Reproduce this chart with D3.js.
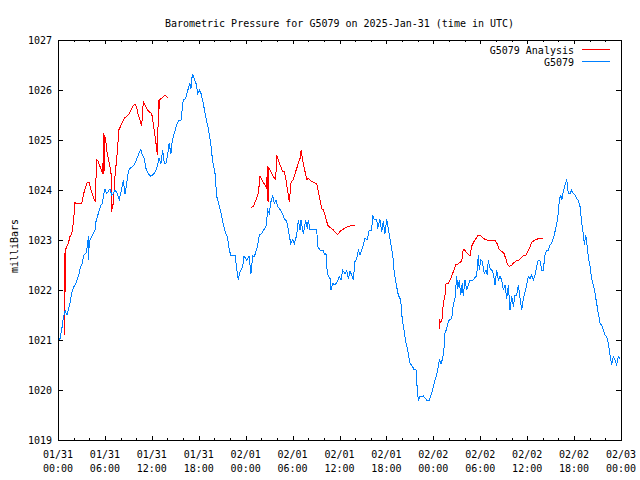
<!DOCTYPE html>
<html>
<head>
<meta charset="utf-8">
<script src="https://cdn.jsdelivr.net/npm/d3@7"></script>
<style>
  html, body { margin: 0; padding: 0; background: #fff; }
  svg { display: block; }
  text { font-family: "DejaVu Sans Mono", "Liberation Mono", monospace; font-size: 10px; fill: #000; }
</style>
</head>
<body>
<svg id="chart" width="640" height="480"></svg>
<script>
// ---------- DATA ----------
const chartTitle = "Barometric Pressure for G5079 on 2025-Jan-31 (time in UTC)";
const yLabel = "milliBars";
const seriesNames = ["G5079 Analysis", "G5079"];
const startTime = "2025-01-31T00:00:00Z";
const endTime = "2025-02-03T00:00:00Z";
const yTicks = [1019, 1020, 1021, 1022, 1023, 1024, 1025, 1026, 1027];

// G5079 observations: hours after start, pressure (mb)
const blueHours = [
  0.22,0.47,0.68,0.90,1.15,1.53,1.75,2.05,2.26,2.60,2.90,3.03,3.33,3.58,3.75,3.88,3.91,4.00,4.31,4.73,
  4.86,5.15,5.46,5.67,5.88,6.01,6.23,6.65,6.87,7.07,7.29,7.58,7.84,8.15,8.35,8.57,8.79,8.99,9.21,9.63,
  9.94,10.27,10.58,10.78,11.04,11.25,11.55,11.86,12.28,12.62,12.92,13.17,13.39,13.59,13.81,14.03,14.20,14.45,14.62,14.87,
  15.18,15.48,15.73,16.02,16.33,16.66,16.88,17.01,17.18,17.43,17.65,17.87,18.07,18.29,18.58,18.89,19.22,19.53,19.78,20.08,
  20.30,20.59,20.81,21.06,21.36,21.65,21.91,22.09,22.64,22.85,23.06,23.28,23.62,23.79,24.13,24.43,24.68,24.90,25.11,25.32,
  25.54,25.74,26.05,26.35,26.60,26.82,27.02,27.24,27.46,27.66,27.88,28.10,28.39,28.69,28.94,29.25,29.45,29.76,30.02,30.22,
  30.53,30.73,30.95,31.08,31.37,31.68,31.88,32.01,32.23,33.09,33.21,33.51,33.93,34.06,34.27,34.36,34.57,34.79,34.91,35.13,
  35.43,35.72,35.98,36.19,36.41,36.70,36.92,37.13,37.34,37.56,37.77,37.98,38.20,38.41,38.62,38.84,39.04,39.26,39.56,39.81,
  40.12,40.25,40.45,40.76,40.89,41.18,41.40,41.60,41.82,42.04,42.24,42.55,42.81,42.97,43.23,43.52,43.83,44.03,44.25,44.51,
  44.72,45.02,45.23,45.53,45.79,45.95,46.08,46.30,46.72,47.15,47.48,47.79,48.00,48.21,48.43,48.64,48.76,48.98,49.20,49.36,
  49.49,49.71,49.91,50.04,50.35,50.55,50.77,50.99,51.12,51.32,51.50,51.70,51.83,52.05,52.27,52.47,52.69,53.04,53.24,53.46,
  53.63,53.75,53.88,54.06,54.26,54.52,54.74,54.90,55.03,55.25,55.47,55.67,55.89,56.10,56.31,56.53,56.75,56.95,57.17,57.39,
  57.59,57.81,58.03,58.23,58.45,58.66,58.87,59.09,59.30,59.51,59.73,59.94,60.15,60.37,60.58,60.79,61.00,61.22,61.42,61.64,
  61.86,62.06,62.28,62.49,62.70,62.92,63.13,63.34,63.56,63.78,63.98,64.11,64.29,64.42,64.62,64.84,65.06,65.26,65.48,65.70,
  65.90,66.12,66.34,66.54,66.76,66.98,67.18,67.31,67.49,67.61,67.82,68.04,68.25,68.46,68.68,68.89,69.10,69.32,69.53,69.74,
  69.95,70.17,70.38,70.60,70.81,71.02,71.24,71.45,71.66,71.88
];
const blueValues = [
  1021.00,1021.20,1021.44,1021.59,1021.50,1021.74,1021.94,1022.07,1022.12,1022.27,1022.47,1022.50,1022.70,1022.74,1022.87,1023.07,1022.60,1022.97,1023.07,1023.20,
  1023.37,1023.53,1023.69,1023.73,1023.93,1024.02,1023.93,1024.02,1023.90,1023.93,1024.00,1023.93,1023.81,1024.03,1024.20,1023.93,1024.13,1024.37,1024.43,1024.48,
  1024.57,1024.70,1024.81,1024.70,1024.63,1024.43,1024.33,1024.27,1024.33,1024.43,1024.63,1024.53,1024.80,1024.53,1024.53,1024.70,1024.93,1024.73,1025.00,1025.13,
  1025.30,1025.40,1025.40,1025.80,1025.83,1026.03,1026.13,1026.03,1026.32,1026.23,1026.13,1025.93,1026.00,1025.93,1025.73,1025.47,1025.23,1024.93,1024.57,1024.33,
  1023.87,1023.70,1023.57,1023.37,1023.17,1023.07,1022.80,1022.70,1022.70,1022.43,1022.21,1022.37,1022.47,1022.68,1022.60,1022.68,1022.33,1022.68,1022.67,1022.77,
  1022.90,1023.10,1023.13,1023.21,1023.27,1023.60,1023.53,1023.77,1023.90,1023.73,1023.80,1023.67,1023.61,1023.53,1023.43,1023.37,1023.21,1022.93,1023.00,1022.93,
  1023.10,1023.40,1023.20,1023.40,1023.12,1023.40,1023.23,1023.40,1023.21,1023.21,1022.87,1022.80,1022.80,1022.70,1022.73,1022.47,1022.27,1022.23,1022.00,1022.13,
  1022.10,1022.17,1022.27,1022.20,1022.39,1022.33,1022.39,1022.23,1022.37,1022.30,1022.20,1022.57,1022.63,1022.79,1022.70,1022.80,1022.90,1023.03,1023.01,1023.20,
  1023.20,1023.50,1023.41,1023.40,1023.23,1023.41,1023.17,1023.37,1023.13,1023.41,1023.23,1022.93,1022.70,1022.40,1022.13,1021.90,1021.80,1021.40,1021.20,1020.93,
  1020.80,1020.53,1020.50,1020.41,1020.40,1020.00,1019.80,1019.87,1019.88,1019.80,1019.80,1019.93,1020.07,1020.20,1020.30,1020.47,1020.60,1020.53,1020.63,1020.83,
  1021.13,1021.23,1021.37,1021.40,1021.43,1021.70,1021.83,1022.28,1022.03,1022.20,1021.90,1022.13,1021.88,1022.20,1022.00,1022.10,1022.20,1022.20,1022.23,1022.27,
  1022.43,1022.70,1022.40,1022.60,1022.57,1022.33,1022.40,1022.30,1022.60,1022.43,1022.40,1022.33,1022.10,1022.40,1022.20,1022.27,1022.20,1022.00,1022.10,1021.83,
  1022.10,1021.60,1021.87,1021.67,1021.90,1021.90,1022.10,1021.83,1021.60,1021.83,1021.97,1022.10,1022.27,1022.23,1022.30,1022.20,1022.30,1022.47,1022.60,1022.59,
  1022.40,1022.40,1022.70,1022.80,1022.80,1022.90,1022.93,1023.03,1023.17,1023.33,1023.53,1023.80,1023.90,1023.80,1023.97,1024.10,1024.21,1023.93,1023.93,1024.00,
  1023.93,1023.90,1023.83,1023.80,1023.67,1023.33,1023.13,1022.90,1023.10,1022.97,1022.67,1022.47,1022.23,1022.10,1021.93,1021.73,1021.53,1021.33,1021.30,1021.20,
  1021.10,1021.07,1020.93,1020.70,1020.50,1020.67,1020.60,1020.50,1020.67,1020.63
];

// G5079 Analysis: hours after start, pressure (mb); null marks a gap
const redHours = [
  0.81,0.83,0.90,1.02,1.32,1.53,1.75,1.88,2.05,2.08,2.39,2.69,3.03,3.24,3.54,3.75,4.00,4.22,4.44,4.64,
  4.82,4.85,4.95,5.15,5.37,5.59,5.72,5.79,5.84,5.88,5.97,6.10,6.23,6.43,6.65,6.78,6.87,6.99,7.12,7.20,
  7.38,7.51,7.63,7.80,8.02,8.27,8.57,8.86,9.08,9.34,9.63,9.85,10.07,10.27,10.49,10.70,10.91,11.13,11.34,11.55,
  11.77,11.98,12.19,12.32,12.49,12.62,12.75,12.83,12.92,13.04,13.34,13.68,13.81,14.03,
  18.0,
  24.68,24.98,25.32,25.62,25.83,26.05,26.35,26.60,26.69,26.77,26.86,26.94,27.20,27.53,27.84,27.97,28.18,28.48,28.74,28.94,
  29.16,29.38,29.58,29.80,30.09,30.40,30.73,30.95,31.08,31.29,31.59,31.81,32.01,32.45,32.74,33.09,33.29,33.51,33.72,33.93,
  34.15,34.36,34.57,34.88,35.21,35.51,35.77,36.06,36.41,36.83,37.13,37.47,37.98,
  42.0,
  48.76,48.77,48.94,49.10,49.27,49.49,49.62,49.91,50.22,50.47,50.68,50.86,51.06,51.32,51.63,51.83,52.05,52.35,52.69,52.91,
  53.20,53.46,53.75,54.06,54.39,54.83,55.34,55.89,56.18,56.44,56.75,57.04,57.30,57.51,57.72,58.03,58.32,58.66,58.99,59.30,
  59.60,59.85,60.02,60.27,60.58,60.87,61.22,61.55,62.06
];
const redValues = [
  1021.10,1022.73,1021.97,1022.83,1022.93,1023.07,1023.13,1023.23,1023.50,1023.75,1023.73,1023.72,1023.73,1023.90,1024.07,1024.15,1024.15,1024.00,1023.90,1023.81,
  1023.77,1024.19,1024.60,1024.57,1024.47,1024.38,1024.33,1024.73,1025.13,1024.33,1025.10,1025.00,1024.80,1024.63,1024.47,1024.33,1023.57,1023.70,1023.73,1024.13,
  1024.43,1024.63,1024.88,1025.21,1025.28,1025.37,1025.45,1025.48,1025.52,1025.60,1025.69,1025.71,1025.65,1025.50,1025.40,1025.28,1025.77,1025.70,1025.63,1025.58,
  1025.55,1025.53,1025.33,1025.17,1025.00,1024.80,1024.70,1025.80,1025.63,1025.81,1025.85,1025.90,1025.88,1025.85,
  null,
  1023.65,1023.67,1023.80,1023.93,1024.27,1024.21,1024.13,1024.07,1024.03,1024.48,1023.77,1024.45,1024.37,1024.27,1024.21,1024.70,1024.60,1024.47,1024.37,1024.37,
  1024.20,1023.97,1023.77,1024.15,1024.21,1024.37,1024.53,1024.63,1024.79,1024.60,1024.37,1024.21,1024.23,1024.17,1024.15,1024.12,1023.97,1023.80,1023.63,1023.60,
  1023.50,1023.37,1023.27,1023.25,1023.20,1023.15,1023.11,1023.17,1023.21,1023.25,1023.27,1023.29,1023.29,
  null,
  1021.21,1021.41,1021.35,1021.40,1021.73,1021.90,1022.12,1022.13,1022.23,1022.33,1022.41,1022.51,1022.50,1022.55,1022.57,1022.82,1022.79,1022.73,1022.68,1022.88,
  1022.97,1023.03,1023.10,1023.08,1023.03,1023.00,1023.00,1023.00,1022.92,1022.81,1022.77,1022.73,1022.61,1022.50,1022.47,1022.50,1022.55,1022.59,1022.60,1022.65,
  1022.70,1022.70,1022.75,1022.83,1022.95,1022.99,1023.01,1023.04,1023.03
];
const seriesColors = ["#ff0000", "#0080ff"];

// ---------- CHART ----------
const svg = d3.select("#chart");
const L = 58, R = 621, T = 40, B = 440;
const t0 = new Date(startTime), t1 = new Date(endTime);
const toDate = h => new Date(t0.getTime() + h * 3600e3);

const x = d3.scaleUtc().domain([t0, t1]).range([L, R]);
const y = d3.scaleLinear().domain([1019, 1027]).range([B, T]);

const majorX = d3.utcHour.every(6).range(t0, new Date(t1.getTime() + 1));
const minorX = d3.utcHour.every(2).range(t0, new Date(t1.getTime() + 1));

// title
svg.append("text").attr("x", (L + R) / 2).attr("y", 27)
  .attr("text-anchor", "middle").text(chartTitle);

// y label
svg.append("text").attr("transform", "translate(18,246) rotate(-90)")
  .attr("text-anchor", "middle").text(yLabel);

// minor x ticks (bottom & top)
svg.append("g").attr("transform", `translate(0,${B})`)
  .call(d3.axisBottom(x).tickValues(minorX).tickSize(-2).tickFormat(""));
svg.append("g").attr("transform", `translate(0,${T})`)
  .call(d3.axisTop(x).tickValues(minorX).tickSize(-2).tickFormat(""));

// major x ticks bottom with labels
const fmtD = d3.utcFormat("%m/%d"), fmtT = d3.utcFormat("%H:%M");
svg.append("g").attr("transform", `translate(0,${B})`)
  .call(d3.axisBottom(x).tickValues(majorX).tickSize(-4).tickSizeOuter(0).tickFormat(""));
const labels = svg.append("g").selectAll("text").data(majorX).join("text")
  .attr("text-anchor", "middle");
labels.append("tspan").attr("x", d => x(d)).attr("y", B + 18).text(d => fmtD(d));
labels.append("tspan").attr("x", d => x(d)).attr("y", B + 32).text(d => fmtT(d));

svg.append("g").attr("transform", `translate(0,${T})`)
  .call(d3.axisTop(x).tickValues(majorX).tickSize(-4).tickFormat(""));

// y axes
const gyL = svg.append("g").attr("transform", `translate(${L},0)`)
  .call(d3.axisLeft(y).tickValues(yTicks).tickSize(-5).tickPadding(6).tickFormat(d3.format("d")));
svg.append("g").attr("transform", `translate(${R},0)`)
  .call(d3.axisRight(y).tickValues(yTicks).tickSize(-5).tickFormat(""));

svg.selectAll(".domain").remove();
svg.selectAll(".tick line").attr("stroke", "#000").attr("shape-rendering", "crispEdges");
gyL.selectAll("text").attr("font-family", null).attr("font-size", null).style("fill", "#000");

// border
svg.append("rect").attr("x", L + 0.5).attr("y", T + 0.5)
  .attr("width", R - L).attr("height", B - T)
  .attr("fill", "none").attr("stroke", "#000").attr("shape-rendering", "crispEdges");

// lines
const line = d3.line()
  .defined(d => d.v !== null)
  .x(d => x(toDate(d.h)))
  .y(d => y(d.v));

const redData = redHours.map((h, i) => ({ h, v: redValues[i] }));
const blueData = blueHours.map((h, i) => ({ h, v: blueValues[i] }));

svg.append("path").datum(redData).attr("d", line)
  .attr("fill", "none").attr("stroke", seriesColors[0]).attr("stroke-width", 1)
  .attr("shape-rendering", "crispEdges");
svg.append("path").datum(blueData).attr("d", line)
  .attr("fill", "none").attr("stroke", seriesColors[1]).attr("stroke-width", 1)
  .attr("shape-rendering", "crispEdges");

// legend
const legY = [50, 62];
seriesNames.forEach((name, i) => {
  svg.append("text").attr("x", 574).attr("y", legY[i] + 4)
    .attr("text-anchor", "end").text(name);
  svg.append("line").attr("x1", 582).attr("x2", 610)
    .attr("y1", legY[i] - 0.5).attr("y2", legY[i] - 0.5)
    .attr("stroke", seriesColors[i]).attr("stroke-width", 1)
    .attr("shape-rendering", "crispEdges");
});
</script>
</body>
</html>
